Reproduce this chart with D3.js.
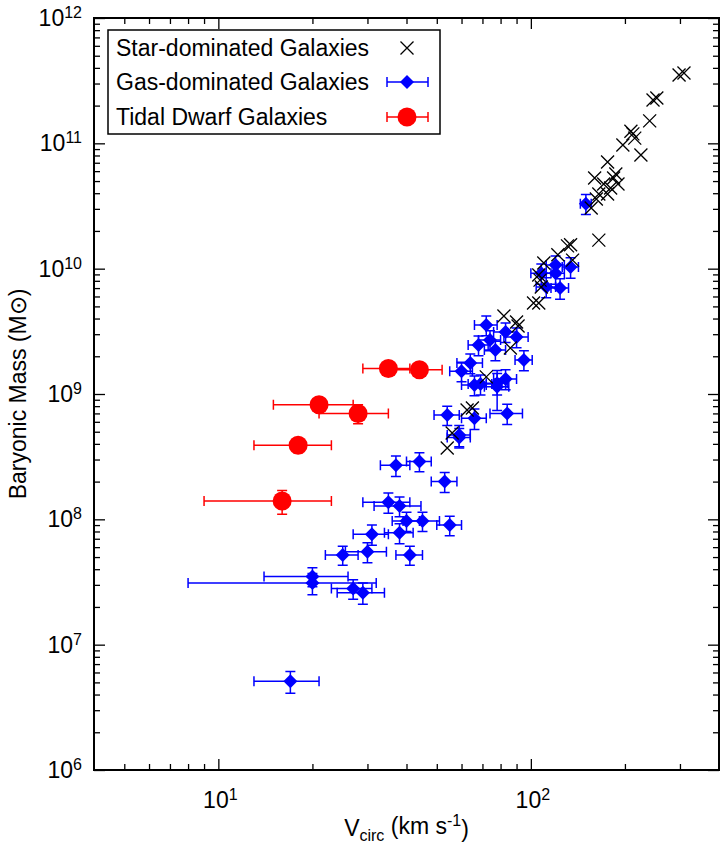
<!DOCTYPE html>
<html lang="en">
  <head>
    <meta charset="UTF-8" />
    <title>Baryonic Tully-Fisher</title>
    <style>
      body {
        margin: 0;
        background: #fff;
      }
      svg text {
        font-family: "Liberation Sans", Arial, Helvetica, sans-serif;
        fill: #000;
      }
    </style>
  </head>
  <body>
    <svg id="chart" width="723" height="845"></svg>
  </body>
  <script src="https://cdn.jsdelivr.net/npm/d3@7"></script>
  <script>
    // star-dominated galaxies (black crosses)
    let starV = [298, 309, 246, 253, 240, 209, 212, 215, 197, 225,
      176, 187, 184, 160, 190, 171, 180, 165, 176, 162,
      156, 165, 134, 131, 122, 110, 136, 106, 108, 107,
      102, 106, 82, 90, 91, 86, 72, 62.5, 65, 56, 54];
    let starM = [3.51e11, 3.64e11, 2.22e11, 2.3e11, 1.51e11, 1.25e11, 1.19e11, 1.1e11, 9.7e10, 8.07e10,
      7.1e10, 5.69e10, 5.29e10, 5.29e10, 4.73e10, 4.73e10, 4.4e10, 3.94e10, 3.94e10, 3.6e10,
      3.05e10, 1.69e10, 1.55e10, 1.52e10, 1.29e10, 1.11e10, 1.17e10, 8.9e9, 7.15e9, 8.1e9,
      5.32e9, 5.32e9, 4.19e9, 3.75e9, 3.49e9, 2.33e9, 1.37e9, 7.45e8, 7.73e8, 4.89e8, 3.71e8];

    // gas-dominated galaxies (blue diamonds, with errors)
    let gasV = [17, 20, 20, 27, 29, 25, 30, 41, 31, 38,
      40, 45, 55, 35, 38, 37, 44, 53, 54, 66,
      84, 59, 59, 66, 69, 78, 83, 78, 60, 64,
      95, 68, 77, 74, 72, 83, 90, 134, 120, 108,
      120, 112, 124, 150];
    let gasM = [5.1e6, 3.1e7, 3.5e7, 2.8e7, 2.6e7, 5.2e7, 5.5e7, 5.2e7, 7.6e7, 7.8e7,
      9.7e7, 9.7e7, 9.0e7, 1.37e8, 1.28e8, 2.7e8, 2.9e8, 2.0e8, 6.8e8, 6.4e8,
      7.0e8, 4.7e8, 4.5e8, 1.18e9, 1.2e9, 1.22e9, 1.32e9, 1.14e9, 1.52e9, 1.77e9,
      1.87e9, 2.46e9, 2.24e9, 2.7e9, 3.55e9, 3.13e9, 2.85e9, 1.03e10, 1.07e10, 9.2e9,
      9.2e9, 7.15e9, 7.0e9, 3.3e10];
    let gasVerr = [4, 12, 6, 4, 5, 3, 4.5, 4, 4, 4,
      4, 6, 5, 6, 6.5, 4, 4, 5, 5, 6,
      10, 5, 5, 6, 6, 6, 7, 7, 5, 6,
      6, 5, 6, 6, 6, 7, 8, 8, 8, 8,
      8, 8, 8, 6];
    let gasMerr = [1e6, 6e6, 6e6, 5e6, 5e6, 9e6, 1e7, 9e6, 1.4e7, 1.4e7,
      1.7e7, 1.7e7, 1.6e7, 2.5e7, 2.3e7, 5e7, 5e7, 3.6e7, 1.2e8, 1.2e8,
      1.3e8, 9e7, 8e7, 2.1e8, 2.2e8, 2.4e8, 2.4e8, 4e8, 2.7e8, 3.2e8,
      3.4e8, 4.4e8, 4e8, 4.9e8, 6.4e8, 5.6e8, 5.1e8, 1.9e9, 1.9e9, 1.7e9,
      1.7e9, 1.3e9, 1.3e9, 6e9];

    // tidal dwarf galaxies (red circles, with errors)
    let tdgV = [35, 44, 21, 28, 18, 16];
    let tdgM = [1.6e9, 1.56e9, 8.2e8, 7.0e8, 3.9e8, 1.4e8];
    let tdgVerr = [6, 8, 6, 7, 5, 7];
    let tdgMerr = [1e8, 1e8, 1e8, 1.2e8, 5e7, 3e7];

    let xMajor = [10, 100];
    let xMinor = [5, 6, 7, 8, 9, 20, 30, 40, 50, 60, 70, 80, 90, 200, 300];
    let yMajor = [1e6, 1e7, 1e8, 1e9, 1e10, 1e11, 1e12];
    let legendLabels = ["Star-dominated Galaxies", "Gas-dominated Galaxies", "Tidal Dwarf Galaxies"];

    let pLeft = 94, pRight = 719, pTop = 18, pBottom = 770;
    let svg = d3.select("#chart");

    let x = d3.scaleLog().domain([4, 400]).range([pLeft, pRight]);
    let y = d3.scaleLog().domain([1e6, 1e12]).range([pBottom, pTop]);

    let yMinor = [];
    yMajor.slice(0, -1).forEach((d) => {
      for (let k = 2; k <= 9; k++) yMinor.push(d * k);
    });

    // ticks on all four sides, pointing inward
    function ticks(axis, values, size, tr) {
      let g = svg.append("g").attr("transform", tr)
        .call(axis.tickValues(values).tickSize(size).tickSizeOuter(0).tickFormat(""));
      g.select(".domain").remove();
      g.selectAll(".tick line").attr("stroke", "#000").attr("stroke-width", 1.3);
    }
    ticks(d3.axisBottom(x), xMajor, -11, `translate(0,${pBottom})`);
    ticks(d3.axisBottom(x), xMinor, -6, `translate(0,${pBottom})`);
    ticks(d3.axisTop(x), xMajor, -11, `translate(0,${pTop})`);
    ticks(d3.axisTop(x), xMinor, -6, `translate(0,${pTop})`);
    ticks(d3.axisLeft(y), yMajor, -11, `translate(${pLeft},0)`);
    ticks(d3.axisLeft(y), yMinor, -6, `translate(${pLeft},0)`);
    ticks(d3.axisRight(y), yMajor, -11, `translate(${pRight},0)`);
    ticks(d3.axisRight(y), yMinor, -6, `translate(${pRight},0)`);

    svg.append("rect")
      .attr("x", pLeft).attr("y", pTop)
      .attr("width", pRight - pLeft).attr("height", pBottom - pTop)
      .attr("fill", "none").attr("stroke", "#000").attr("stroke-width", 2);

    // tick labels as 10^n
    function powerLabel(sel, n) {
      sel.append("tspan").text("10");
      sel.append("tspan").attr("dy", "-0.5em").attr("font-size", "16px").text(n);
    }
    yMajor.forEach((d) => {
      let t = svg.append("text")
        .attr("x", 82).attr("y", y(d) + 8)
        .attr("text-anchor", "end").attr("font-size", "23px");
      powerLabel(t, Math.round(Math.log10(d)));
    });
    xMajor.forEach((d) => {
      let t = svg.append("text")
        .attr("x", x(d) + 2).attr("y", 808)
        .attr("text-anchor", "middle").attr("font-size", "23px");
      powerLabel(t, Math.round(Math.log10(d)));
    });

    // axis titles
    let xt = svg.append("text")
      .attr("x", (pLeft + pRight) / 2).attr("y", 836)
      .attr("text-anchor", "middle").attr("font-size", "23px");
    xt.append("tspan").text("V");
    xt.append("tspan").attr("dy", "0.3em").attr("font-size", "16px").text("circ");
    xt.append("tspan").attr("dy", "-0.3em").text(" (km s");
    xt.append("tspan").attr("dy", "-0.5em").attr("font-size", "16px").text("-1");
    xt.append("tspan").attr("dy", "0.5em").text(")");

    svg.append("text")
      .attr("transform", `translate(26,${(pTop + pBottom) / 2}) rotate(-90)`)
      .attr("text-anchor", "middle").attr("font-size", "23px")
      .text("Baryonic Mass (M\u2299)");

    // marker helpers
    function cross(g, cx, cy) {
      let s = 6.5;
      g.append("path")
        .attr("d", `M${cx - s},${cy - s}L${cx + s},${cy + s}M${cx - s},${cy + s}L${cx + s},${cy - s}`)
        .attr("stroke", "#000").attr("stroke-width", 1.3).attr("fill", "none");
    }
    function diamond(g, cx, cy) {
      g.append("path")
        .attr("d", `M${cx},${cy - 7}L${cx + 7},${cy}L${cx},${cy + 7}L${cx - 7},${cy}Z`)
        .attr("fill", "#0000ff");
    }
    function circle(g, cx, cy) {
      g.append("circle").attr("cx", cx).attr("cy", cy).attr("r", 9.5).attr("fill", "#ff0000");
    }
    function errBar(g, x0, x1, y0, y1, cx, cy, color) {
      let c = 5;
      let d = `M${x0},${cy}L${x1},${cy}M${x0},${cy - c}L${x0},${cy + c}M${x1},${cy - c}L${x1},${cy + c}`;
      d += `M${cx},${y0}L${cx},${y1}M${cx - c},${y0}L${cx + c},${y0}M${cx - c},${y1}L${cx + c},${y1}`;
      g.append("path").attr("d", d)
        .attr("stroke", color).attr("stroke-width", 1.5).attr("fill", "none");
    }

    let plot = svg.append("g");

    // gas-dominated
    let gasG = plot.append("g");
    gasV.forEach((v, i) => {
      let m = gasM[i];
      errBar(gasG, x(v - gasVerr[i]), x(v + gasVerr[i]), y(m - gasMerr[i]), y(m + gasMerr[i]), x(v), y(m), "#0000ff");
    });
    gasV.forEach((v, i) => diamond(gasG, x(v), y(gasM[i])));

    // star-dominated
    let starG = plot.append("g");
    starV.forEach((v, i) => cross(starG, x(v), y(starM[i])));

    // tidal dwarfs
    let tdgG = plot.append("g");
    tdgV.forEach((v, i) => {
      let m = tdgM[i];
      errBar(tdgG, x(v - tdgVerr[i]), x(v + tdgVerr[i]), y(m - tdgMerr[i]), y(m + tdgMerr[i]), x(v), y(m), "#ff0000");
    });
    tdgV.forEach((v, i) => circle(tdgG, x(v), y(tdgM[i])));

    // legend
    let lg = svg.append("g");
    lg.append("rect")
      .attr("x", 108).attr("y", 30).attr("width", 332).attr("height", 104)
      .attr("fill", "#fff").attr("stroke", "#000").attr("stroke-width", 1.5);
    let rows = [48, 82, 117];
    legendLabels.forEach((t, i) => {
      lg.append("text").attr("x", 116).attr("y", rows[i] + 8)
        .attr("font-size", "23px").text(t);
    });
    cross(lg, 407, rows[0]);
    errBar(lg, 387, 428, rows[1], rows[1], 407, rows[1], "#0000ff");
    diamond(lg, 407, rows[1]);
    errBar(lg, 387, 428, rows[2], rows[2], 407, rows[2], "#ff0000");
    circle(lg, 407, rows[2]);
  </script>
</html>
